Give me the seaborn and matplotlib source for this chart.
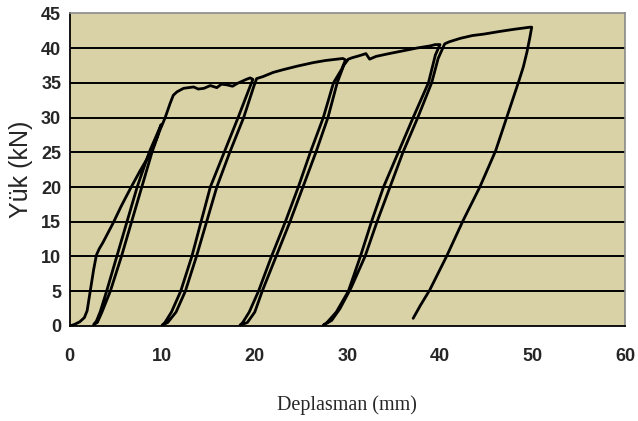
import numpy as np
import pandas as pd
import matplotlib
matplotlib.use("Agg")
import matplotlib.pyplot as plt
import seaborn as sns

# ---- data (displacement mm, load kN) ----
load0_x = [0.0, 0.5, 1.1, 1.6, 1.9, 2.2, 2.6, 2.9, 3.2, 3.6, 4.7, 5.6, 6.5, 7.6, 8.7, 9.4, 9.9]
load0_y = [0.0, 0.2, 0.6, 1.2, 2.2, 4.7, 8.1, 10.2, 11.1, 12.0, 14.8, 17.3, 19.6, 22.3, 24.8, 27.0, 29.0]

unload1_x = [9.9, 8.6, 7.3, 6.2, 5.1, 4.0, 3.3, 2.9, 2.6]
unload1_y = [29.0, 25.0, 20.0, 15.0, 10.0, 5.0, 2.0, 0.7, 0.2]
reload1_x = [2.6, 3.0, 3.5, 4.4, 5.6, 6.7, 7.8, 8.9, 9.7, 10.3]
reload1_y = [0.2, 0.5, 2.0, 5.0, 10.0, 15.0, 20.0, 25.0, 28.0, 29.9]

env1_x = [10.3, 10.85, 11.2, 11.6, 12.3, 13.4, 13.9, 14.5, 15.2, 15.9, 16.4, 17.0, 17.6, 18.1, 18.6, 19.1, 19.5, 19.8]
env1_y = [29.9, 32.0, 33.2, 33.7, 34.2, 34.4, 34.1, 34.2, 34.6, 34.3, 34.8, 34.7, 34.5, 34.9, 35.2, 35.5, 35.7, 35.5]

unload2_x = [19.8, 19.5, 18.2, 16.7, 15.2, 14.2, 13.2, 12.0, 11.0, 10.3, 10.0]
unload2_y = [35.5, 34.5, 30.0, 25.0, 20.0, 15.0, 10.0, 5.0, 2.0, 0.5, 0.1]
reload2_x = [10.0, 10.6, 11.5, 12.5, 13.7, 14.8, 15.9, 17.3, 18.8, 19.9, 20.2]
reload2_y = [0.1, 0.5, 2.0, 5.0, 10.0, 15.0, 20.0, 25.0, 30.0, 34.5, 35.6]

env2_x = [20.2, 20.9, 22.0, 23.1, 24.6, 26.3, 27.6, 28.85, 29.5, 29.8]
env2_y = [35.6, 35.9, 36.5, 36.9, 37.4, 37.9, 38.2, 38.4, 38.5, 38.3]

unload3_x = [29.8, 29.4, 28.5, 27.4, 26.0, 24.7, 23.3, 21.8, 20.4, 19.4, 18.7, 18.4]
unload3_y = [38.3, 37.0, 35.0, 30.0, 25.0, 20.0, 15.0, 10.0, 5.0, 2.0, 0.5, 0.1]
reload3_x = [18.4, 19.2, 20.0, 20.8, 22.3, 23.8, 25.2, 26.6, 27.9, 28.9, 29.6, 30.1]
reload3_y = [0.1, 0.5, 2.0, 5.0, 10.0, 15.0, 20.0, 25.0, 30.0, 35.0, 37.5, 38.4]

env3_x = [30.1, 30.5, 31.3, 32.0, 32.4, 33.1, 34.5, 36.0, 37.5, 38.9, 39.5, 40.0]
env3_y = [38.4, 38.6, 38.9, 39.2, 38.4, 38.8, 39.2, 39.6, 40.0, 40.3, 40.5, 40.5]

unload4_x = [40.0, 39.5, 38.75, 37.1, 35.5, 33.9, 32.6, 31.4, 30.1, 28.8, 27.8, 27.4]
unload4_y = [40.5, 39.0, 35.0, 30.0, 25.0, 20.0, 15.0, 10.0, 5.0, 2.0, 0.5, 0.1]
reload4_x = [27.4, 28.3, 29.2, 30.4, 31.9, 33.2, 34.6, 36.0, 37.6, 39.1, 39.8, 40.5]
reload4_y = [0.1, 0.8, 2.5, 5.5, 10.0, 15.0, 20.0, 25.0, 30.0, 35.0, 38.5, 40.6]

env4_x = [40.5, 41.0, 42.2, 43.5, 44.7, 46.5, 48.0, 49.7, 49.9]
env4_y = [40.6, 40.9, 41.4, 41.8, 42.0, 42.4, 42.7, 43.0, 43.0]

unload5_x = [49.9, 49.7, 49.4, 49.0, 48.5, 47.2, 46.0, 44.3, 42.5, 40.7, 38.9, 37.9, 37.1]
unload5_y = [43.0, 41.5, 39.5, 37.3, 35.2, 30.0, 25.2, 20.0, 15.2, 10.0, 5.2, 3.0, 1.1]

x_ticks = [0, 10, 20, 30, 40, 50, 60]
y_ticks = [0, 5, 10, 15, 20, 25, 30, 35, 40, 45]
x_label = "Deplasman (mm)"
y_label = "Yük (kN)"

segments = [
    (load0_x, load0_y), (unload1_x, unload1_y), (reload1_x, reload1_y),
    (env1_x, env1_y), (unload2_x, unload2_y), (reload2_x, reload2_y),
    (env2_x, env2_y), (unload3_x, unload3_y), (reload3_x, reload3_y),
    (env3_x, env3_y), (unload4_x, unload4_y), (reload4_x, reload4_y),
    (env4_x, env4_y), (unload5_x, unload5_y),
]
xs, ys = [], []
for sx, sy in segments:
    xs.extend(sx)
    ys.extend(sy)
df = pd.DataFrame({"disp": xs, "load": ys, "order": np.arange(len(xs))})

sns.set_style("white")

fig = plt.figure(figsize=(6.38, 4.21), dpi=100)
ax = fig.add_axes([0.109, 0.2257, 0.871, 0.7427])
ax.set_facecolor("#d8d2a6")

for yv in y_ticks[1:-1]:
    ax.axhline(yv, color="black", lw=1.4, zorder=1)

sns.lineplot(data=df, x="disp", y="load", sort=False, estimator=None,
             color="black", lw=2.0, ax=ax, zorder=3)

ax.set_xlim(0, 60)
ax.set_ylim(0, 45)
ax.set_xticks(x_ticks)
ax.set_yticks(y_ticks)

sans = ["Liberation Sans", "DejaVu Sans"]
serif = ["Liberation Serif", "DejaVu Serif"]
ax.set_xticklabels([str(t) for t in x_ticks], family=sans, fontsize=13, fontweight="bold")
ax.set_yticklabels([str(t) for t in y_ticks], family=sans, fontsize=13, fontweight="bold")
ax.tick_params(axis="both", direction="out", length=4, width=1.2, color="black", pad=2)
ax.tick_params(axis="x", pad=12)

for side in ["left", "bottom"]:
    ax.spines[side].set_color("black")
    ax.spines[side].set_linewidth(1.3)
for side in ["top", "right"]:
    ax.spines[side].set_color("#8a8a8a")
    ax.spines[side].set_linewidth(1.2)

ax.set_xlabel(x_label, family=serif, fontsize=14.5, labelpad=22)
ax.set_ylabel(y_label, family=sans, fontsize=18, labelpad=6)

fig.savefig("out.png", dpi=100, facecolor="white")
